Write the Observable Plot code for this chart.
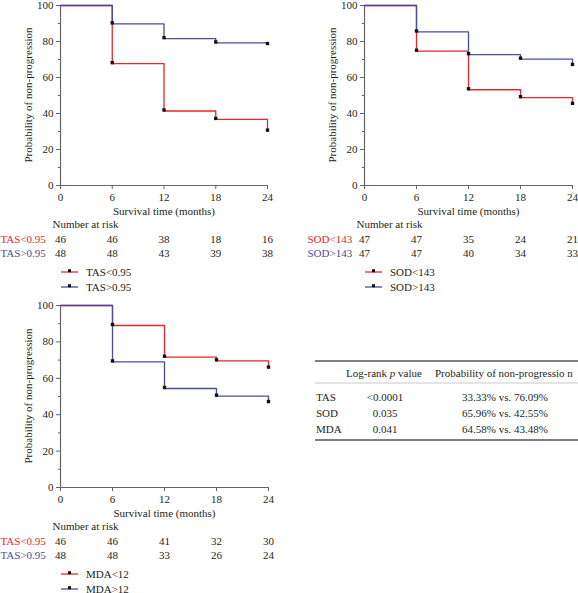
<!DOCTYPE html>
<html>
<head>
<meta charset="utf-8">
<script src="https://cdn.jsdelivr.net/npm/d3@7"></script>
<script src="https://cdn.jsdelivr.net/npm/@observablehq/plot@0.6"></script>
<style>
  html, body { margin: 0; padding: 0; background: #fff; }
  #wrap { position: relative; width: 578px; height: 593px; overflow: hidden; font-family: "Liberation Serif", "DejaVu Serif", serif; }
</style>
</head>
<body>
<div id="wrap"></div>
<script>
// ---------- data ----------
const times = [0, 6, 12, 18, 24];
const tasLow  = [100, 67.7, 41.4, 36.7, 30.2];
const tasHigh = [100, 89.8, 81.6, 79.2, 78.3];
const sodLow  = [100, 74.6, 53.2, 48.8, 45.1];
const sodHigh = [100, 85.3, 72.7, 70.2, 66.7];
const mdaLow  = [100, 89.0, 71.6, 69.6, 65.6];
const mdaHigh = [100, 69.0, 54.4, 50.2, 46.7];

const tasRiskLow  = [46, 46, 38, 18, 16];
const tasRiskHigh = [48, 48, 43, 39, 38];
const sodRiskLow  = [47, 47, 35, 24, 21];
const sodRiskHigh = [47, 47, 40, 34, 33];
const mdaRiskLow  = [46, 46, 41, 32, 30];
const mdaRiskHigh = [48, 48, 33, 26, 24];

const xTicks = [0, 6, 12, 18, 24];
const yTicks = [0, 20, 40, 60, 80, 100];
const yMinorTicks = [10, 30, 50, 70, 90];

const tableRows = ["TAS", "SOD", "MDA"];
const tablePvalues = ["<0.0001", "0.035", "0.041"];
const tableProbs = ["33.33% vs. 76.09%", "65.96% vs. 42.55%", "64.58% vs. 43.48%"];

const RED = "#e8262b";
const BLUE = "#4a4e96";
const AXIS = "#666";
const TEXT = "#231f20";
const FONT = "Liberation Serif, DejaVu Serif, serif";

const wrap = document.getElementById("wrap");

function panel({left, top, width, height, mLeft, mRight, mTop, mBottom, rowLabelDx,
                low, high, riskLow, riskHigh, rowLabels, legendLabels}) {
  const series = [];
  times.forEach((t, i) => series.push({t, v: low[i], g: "low"}));
  times.forEach((t, i) => series.push({t, v: high[i], g: "high"}));
  const risk = [];
  times.forEach((t, i) => risk.push({t, n: riskLow[i], row: 0}));
  times.forEach((t, i) => risk.push({t, n: riskHigh[i], row: 1}));

  const chart = Plot.plot({
    width, height,
    marginLeft: mLeft, marginRight: mRight, marginTop: mTop, marginBottom: mBottom,
    style: {background: "transparent", fontFamily: FONT, fontSize: "11px", color: TEXT, overflow: "visible"},
    x: {domain: [0, 24], label: null},
    y: {domain: [0, 100], label: null},
    marks: [
      Plot.axisY({ticks: yMinorTicks, tickSize: 2, tickFormat: () => "", stroke: AXIS, label: null}),
      Plot.axisY({ticks: yTicks, tickSize: 4, tickPadding: 3, stroke: AXIS, fill: TEXT, label: null, fontSize: 11}),
      Plot.axisX({ticks: xTicks, tickSize: 4, tickPadding: 4, stroke: AXIS, fill: TEXT, label: null, fontSize: 11}),
      Plot.ruleX([0], {stroke: AXIS, strokeWidth: 1.2}),
      Plot.ruleY([0], {stroke: AXIS, strokeWidth: 1.2}),
      Plot.line(series, {x: "t", y: "v", z: "g", stroke: d => d.g === "low" ? RED : BLUE,
                         curve: "step-after", strokeWidth: 1.3}),
      Plot.dot(series.filter(d => d.t > 0), {x: "t", y: "v", symbol: "square", r: 1.9,
                         fill: "#111", stroke: "none", dy: -1}),
      Plot.text(["Survival time (months)"], {frameAnchor: "bottom", dy: 29, fill: TEXT, fontSize: 11}),
      Plot.text(["Number at risk"], {frameAnchor: "bottom-left", dx: -8, dy: 42, textAnchor: "start",
                         fill: TEXT, fontSize: 11}),
      Plot.text(risk.filter(d => d.row === 0), {x: "t", text: "n", frameAnchor: "bottom", dy: 57, fill: TEXT, fontSize: 11}),
      Plot.text(risk.filter(d => d.row === 1), {x: "t", text: "n", frameAnchor: "bottom", dy: 71, fill: TEXT, fontSize: 11}),
      Plot.text([rowLabels[0]], {frameAnchor: "bottom-left", dx: rowLabelDx, dy: 57,
                         textAnchor: "start", fill: RED, fontSize: 11}),
      Plot.text([rowLabels[1]], {frameAnchor: "bottom-left", dx: rowLabelDx, dy: 71,
                         textAnchor: "start", fill: BLUE, fontSize: 11})
    ]
  });
  chart.style.position = "absolute";
  chart.style.left = left + "px";
  chart.style.top = top + "px";

  const bottom = height - mBottom;
  const svg = d3.select(chart);
  // y-axis title
  svg.append("text")
    .attr("transform", `translate(${mLeft - 32},${(mTop + bottom) / 2}) rotate(-90)`)
    .attr("text-anchor", "middle").attr("dy", "0.35em")
    .attr("font-size", 11).attr("fill", TEXT).attr("font-family", FONT)
    .text("Probability of non-progression");
  // legend
  const lg = svg.append("g");
  [[legendLabels[0], RED, 87], [legendLabels[1], BLUE, 102]].forEach(([lab, col, dy]) => {
    const y = bottom + dy;
    lg.append("line").attr("x1", mLeft + 1).attr("x2", mLeft + 18).attr("y1", y).attr("y2", y)
      .attr("stroke", col).attr("stroke-width", 1.3);
    lg.append("rect").attr("x", mLeft + 8).attr("y", y - 2.8).attr("width", 3).attr("height", 3).attr("fill", "#111");
    lg.append("text").attr("x", mLeft + 26).attr("y", y).attr("dy", "0.35em").attr("text-anchor", "start")
      .attr("font-size", 11).attr("fill", TEXT).attr("font-family", FONT).text(lab);
  });
  wrap.appendChild(chart);
}

panel({left: 0, top: 0, width: 290, height: 296, mLeft: 60, mRight: 23, mTop: 5, mBottom: 111, rowLabelDx: -60,
       low: tasLow, high: tasHigh, riskLow: tasRiskLow, riskHigh: tasRiskHigh,
       rowLabels: ["TAS<0.95", "TAS>0.95"], legendLabels: ["TAS<0.95", "TAS>0.95"]});
panel({left: 290, top: 0, width: 288, height: 296, mLeft: 74, mRight: 6, mTop: 5, mBottom: 111, rowLabelDx: -57,
       low: sodLow, high: sodHigh, riskLow: sodRiskLow, riskHigh: sodRiskHigh,
       rowLabels: ["SOD<143", "SOD>143"], legendLabels: ["SOD<143", "SOD>143"]});
panel({left: 0, top: 300, width: 290, height: 293, mLeft: 60, mRight: 22, mTop: 5, mBottom: 106, rowLabelDx: -60,
       low: mdaLow, high: mdaHigh, riskLow: mdaRiskLow, riskHigh: mdaRiskHigh,
       rowLabels: ["TAS<0.95", "TAS>0.95"], legendLabels: ["MDA<12", "MDA>12"]});

// ---------- table ----------
const tsvg = d3.select(wrap).append("svg")
  .attr("width", 278).attr("height", 100)
  .style("position", "absolute").style("left", "300px").style("top", "350px")
  .style("font-family", FONT).style("font-size", "11px");
const lineCol = "#555";
tsvg.append("line").attr("x1", 15).attr("x2", 278).attr("y1", 11).attr("y2", 11).attr("stroke", lineCol).attr("stroke-width", 1.3);
tsvg.append("line").attr("x1", 15).attr("x2", 278).attr("y1", 33).attr("y2", 33).attr("stroke", "#bbb").attr("stroke-width", 0.8);
tsvg.append("line").attr("x1", 15).attr("x2", 278).attr("y1", 90).attr("y2", 90).attr("stroke", lineCol).attr("stroke-width", 1.3);
const h1 = tsvg.append("text").attr("x", 84).attr("y", 23).attr("dy", "0.35em").attr("text-anchor", "middle").attr("fill", TEXT);
h1.append("tspan").text("Log-rank ");
h1.append("tspan").attr("font-style", "italic").text("p");
h1.append("tspan").text(" value");
tsvg.append("text").attr("x", 135).attr("y", 23).attr("dy", "0.35em").attr("fill", TEXT).text("Probability of non-progressio n");
tableRows.forEach((r, i) => {
  const y = 47 + i * 16;
  tsvg.append("text").attr("x", 16).attr("y", y).attr("dy", "0.35em").attr("fill", TEXT).text(r);
  tsvg.append("text").attr("x", 85).attr("y", y).attr("dy", "0.35em").attr("text-anchor", "middle").attr("fill", TEXT).text(tablePvalues[i]);
  tsvg.append("text").attr("x", 205).attr("y", y).attr("dy", "0.35em").attr("text-anchor", "middle").attr("fill", TEXT).text(tableProbs[i]);
});
</script>
</body>
</html>
